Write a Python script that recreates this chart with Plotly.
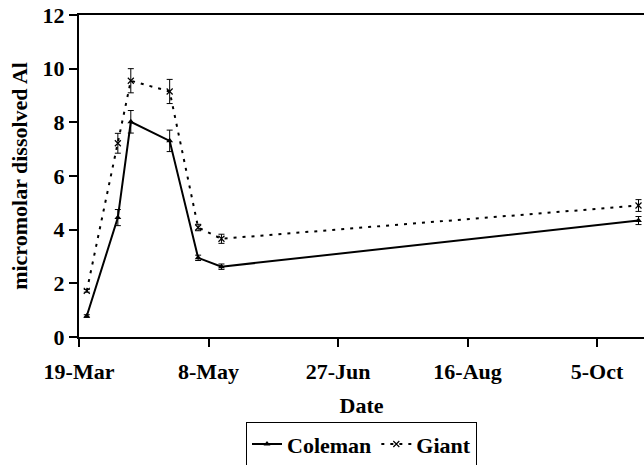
import plotly.graph_objects as go

dates = ["2003-03-22", "2003-04-03", "2003-04-08", "2003-04-23",
         "2003-05-04", "2003-05-13", "2003-10-21"]
coleman = [0.78, 4.45, 8.02, 7.31, 2.95, 2.62, 4.34]
coleman_err = [0.05, 0.3, 0.42, 0.4, 0.1, 0.1, 0.15]
giant = [1.72, 7.22, 9.55, 9.15, 4.08, 3.66, 4.9]
giant_err = [0.05, 0.37, 0.45, 0.45, 0.12, 0.17, 0.22]

tick_vals = ["2003-03-19", "2003-05-08", "2003-06-27", "2003-08-16", "2003-10-05"]
tick_text = ["19-Mar", "8-May", "27-Jun", "16-Aug", "5-Oct"]

FONT = "Liberation Serif"

fig = go.Figure()
fig.add_trace(go.Scatter(
    x=dates, y=coleman, name="Coleman", mode="lines+markers",
    line=dict(color="black", width=2),
    marker=dict(symbol="triangle-up", size=6, color="black"),
    error_y=dict(type="data", array=coleman_err, color="black", thickness=1, width=3),
    cliponaxis=False,
))
fig.add_trace(go.Scatter(
    x=dates, y=giant, name="Giant", mode="lines+markers",
    line=dict(color="black", width=2, dash="3px,6px"),
    marker=dict(symbol="x-thin", size=6, color="black", line=dict(width=1.2, color="black")),
    error_y=dict(type="data", array=giant_err, color="black", thickness=1, width=3),
    cliponaxis=False,
))

fig.update_layout(
    width=644, height=465,
    margin=dict(l=79, r=0, t=15, b=128, autoexpand=False),
    paper_bgcolor="white", plot_bgcolor="white",
    font=dict(family=FONT, size=22, color="black"),
    showlegend=True,
    legend=dict(
        orientation="h", x=0.5, xanchor="center", y=-0.333, yanchor="middle",
        bordercolor="black", borderwidth=1,
        font=dict(family=FONT, size=22, color="black", weight="bold"),
        itemwidth=30, tracegroupgap=0,
    ),
)
fig.update_xaxes(
    type="date", range=["2003-03-19", "2003-10-23 03:00"],
    tickvals=tick_vals, ticktext=tick_text, automargin=False,
    ticks="outside", ticklen=8, tickwidth=1.5, tickcolor="black",
    ticklabelstandoff=6,
    showline=True, linecolor="black", linewidth=2, mirror=True,
    showgrid=False, zeroline=False,
    tickfont=dict(family=FONT, size=22, weight="bold"),
    title=dict(text="Date", font=dict(family=FONT, size=22, weight="bold"), standoff=14),
)
fig.update_yaxes(
    range=[0, 12], dtick=2, tick0=0, automargin=False,
    ticks="outside", ticklen=8, tickwidth=1.5, tickcolor="black",
    showline=True, linecolor="black", linewidth=2,
    showgrid=False, zeroline=False,
    tickfont=dict(family=FONT, size=22, weight="bold"),
    title=dict(text="micromolar dissolved Al", font=dict(family=FONT, size=22, weight="bold"), standoff=9),
)

fig.write_html("out.html", config={"displayModeBar": False},
               post_script="document.body.style.margin='0';document.body.style.overflow='hidden';")
